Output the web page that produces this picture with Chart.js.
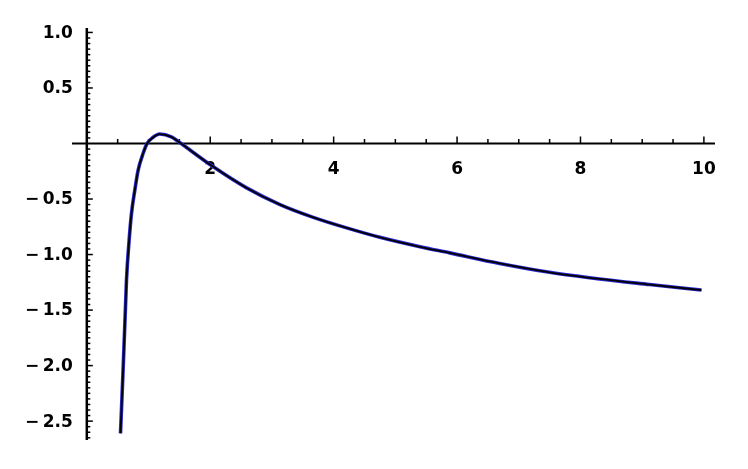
<!DOCTYPE html>
<html lang="en">
<head>
  <meta charset="UTF-8">
  <title>Plot</title>
  <script src="https://cdn.jsdelivr.net/npm/chart.js@4.4.1/dist/chart.umd.min.js"></script>
  <style>
    html, body { margin: 0; padding: 0; background: #fff; }
    #wrap { width: 748px; height: 469px; }
  </style>
</head>
<body>
<div id="wrap"><canvas id="chart"></canvas></div>

<script>
// curve values
const xs = [0.546, 0.588, 0.627, 0.643, 0.686, 0.724, 0.778, 0.832, 0.913, 0.977, 1.075, 1.18, 1.37, 1.51,
            2.05, 2.59, 3.13, 3.67, 4.21, 4.75, 5.40, 5.88, 6.69, 7.50, 8.31, 9.12, 9.96];
const ys = [-2.61, -2.04, -1.47, -1.23, -0.87, -0.63, -0.42, -0.24, -0.088, 0.0, 0.056, 0.085, 0.06, 0.006,
            -0.21, -0.40, -0.55, -0.665, -0.76, -0.845, -0.93, -0.985, -1.08, -1.16, -1.22, -1.27, -1.32];

const xTickLabels = [2, 4, 6, 8, 10];
const yTickLabels = [1.0, 0.5, -0.5, -1.0, -1.5, -2.0, -2.5];

const points = xs.map((x, i) => ({ x: x, y: ys[i] }));

// mathematica style axes crossing at the origin
const axesPlugin = {
  id: 'axes',
  beforeDatasetsDraw(chart) {
    const ctx = chart.ctx;
    const sx = chart.scales.x, sy = chart.scales.y;
    const area = chart.chartArea;
    const x0 = sx.getPixelForValue(0);
    const y0 = sy.getPixelForValue(0);
    ctx.save();
    ctx.strokeStyle = '#000';
    ctx.fillStyle = '#000';

    // axis lines
    ctx.lineWidth = 2;
    ctx.beginPath();
    ctx.moveTo(area.left, y0);
    ctx.lineTo(area.right, y0);
    ctx.stroke();
    ctx.lineWidth = 2.5;
    ctx.beginPath();
    ctx.moveTo(x0, area.top);
    ctx.lineTo(x0, area.bottom);
    ctx.stroke();

    // x ticks every 0.5, longer at the labelled ones
    ctx.lineWidth = 1.5;
    for (let i = 1; i <= 20; i++) {
      const px = sx.getPixelForValue(i * 0.5);
      const len = (i % 4 === 0) ? 7 : 4.5;
      ctx.beginPath();
      ctx.moveTo(px, y0);
      ctx.lineTo(px, y0 - len);
      ctx.stroke();
    }
    // y ticks every 0.05
    for (let i = -53; i <= 20; i++) {
      if (i === 0) continue;
      const py = sy.getPixelForValue(i * 0.05);
      const len = (i % 10 === 0) ? 6 : 3.5;
      ctx.beginPath();
      ctx.moveTo(x0, py);
      ctx.lineTo(x0 + len, py);
      ctx.stroke();
    }

    ctx.font = 'bold 17px "DejaVu Sans"';
    ctx.textAlign = 'center';
    ctx.textBaseline = 'middle';
    xTickLabels.forEach(v => {
      ctx.fillText(String(v), sx.getPixelForValue(v), y0 + 26);
    });
    ctx.textAlign = 'right';
    yTickLabels.forEach(v => {
      const s = v < 0 ? '\u2212\u2009' + Math.abs(v).toFixed(1) : v.toFixed(1);
      ctx.fillText(s, x0 - 14, sy.getPixelForValue(v) + 1);
    });
    ctx.restore();
  }
};

const ctx = document.getElementById('chart').getContext('2d');
const myChart = new Chart(ctx, {
  type: 'line',
  data: {
    datasets: [{
      // black core, drawn on top
      data: points,
      borderColor: '#000',
      borderWidth: 1.8,
      pointRadius: 0,
      cubicInterpolationMode: 'monotone'
    }, {
      data: points,
      borderColor: '#2a2ad0',
      borderWidth: 3.6,
      pointRadius: 0,
      cubicInterpolationMode: 'monotone'
    }]
  },
  options: {
    responsive: true,
    maintainAspectRatio: false,
    animation: false,
    layout: { padding: { left: 72, right: 33, top: 28, bottom: 29 } },
    plugins: { legend: { display: false }, tooltip: { enabled: false } },
    scales: {
      x: { type: 'linear', min: -0.24, max: 10.18, display: false },
      y: { type: 'linear', min: -2.67, max: 1.04, display: false }
    }
  },
  plugins: [axesPlugin]
});
</script>
</body>
</html>
